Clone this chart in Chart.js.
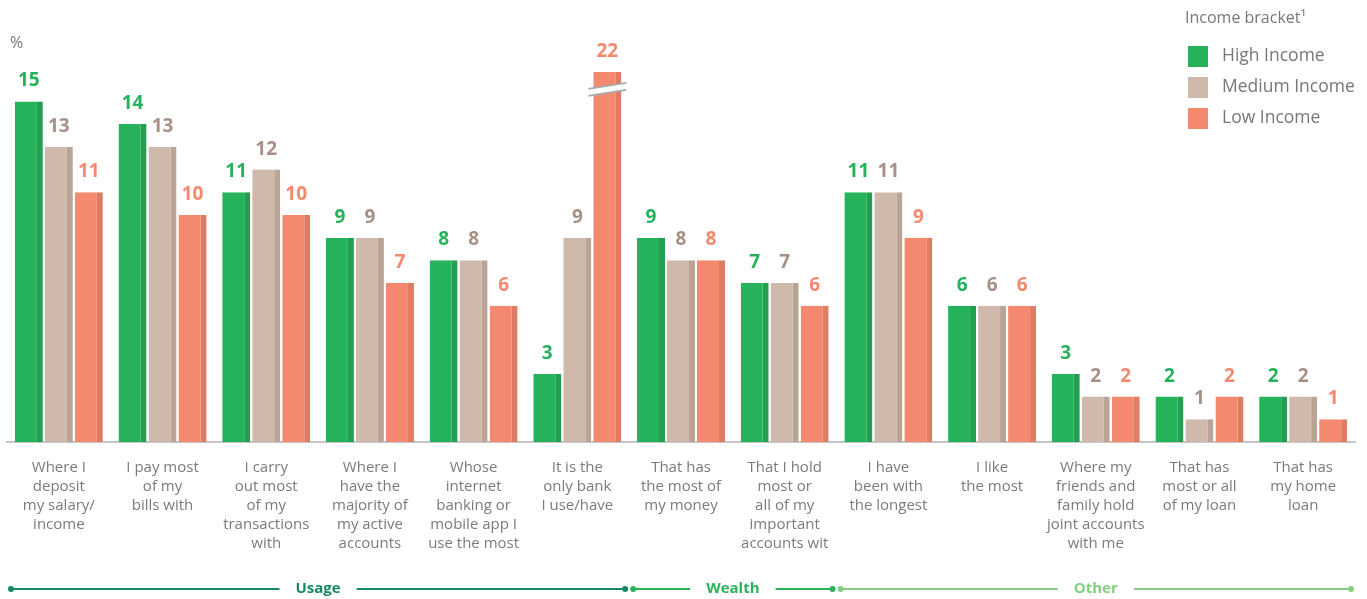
<!DOCTYPE html>
<html lang="en">
<head>
<meta charset="UTF-8" />
<title>Bank choice by income bracket</title>
<script src="https://cdn.jsdelivr.net/npm/chart.js@4.4.1/dist/chart.umd.min.js"></script>
<style>
  html, body { margin: 0; padding: 0; background: #fff; }
  #wrap { width: 1367px; height: 599px; position: relative; }
</style>
</head>
<body>
<div id="wrap"><canvas id="chart"></canvas></div>
<script>
// categories (multi-line labels as in the picture)
const categories = [
  ['Where I', 'deposit', 'my salary/', 'income'],
  ['I pay most', 'of my', 'bills with'],
  ['I carry', 'out most', 'of my', 'transactions', 'with'],
  ['Where I', 'have the', 'majority of', 'my active', 'accounts'],
  ['Whose', 'internet', 'banking or', 'mobile app I', 'use the most'],
  ['It is the', 'only bank', 'I use/have'],
  ['That has', 'the most of', 'my money'],
  ['That I hold', 'most or', 'all of my', 'important', 'accounts wit'],
  ['I have', 'been with', 'the longest'],
  ['I like', 'the most'],
  ['Where my', 'friends and', 'family hold', 'joint accounts', 'with me'],
  ['That has', 'most or all', 'of my loan'],
  ['That has', 'my home', 'loan']
];

const highIncome   = [15, 14, 11, 9, 8, 3, 9, 7, 11, 6, 3, 2, 2];
const mediumIncome = [13, 13, 12, 9, 8, 9, 8, 7, 11, 6, 2, 1, 2];
const lowIncome    = [11, 10, 10, 7, 6, 22, 8, 6, 9, 6, 2, 2, 1];

const seriesNames = ['High Income', 'Medium Income', 'Low Income'];

// sections under the axis: first and last category index
const sectionNames = ['Usage', 'Wealth', 'Other'];
const sectionFrom  = [0, 6, 8];
const sectionTo    = [5, 7, 12];

// bars taller than this are drawn cut off with a break mark
const breakAt = 16.3;

const fills   = ['#26b25b', '#cfb9ab', '#f4896f'];
const stripes = ['#229f51', '#baa496', '#de7c64'];
const labelColors = ['#26b25b', '#a89086', '#f4896f'];
const sectionColors = ['#178a62', '#2bb35a', '#84cf82'];

const allSeries = [highIncome, mediumIncome, lowIncome];

const overlay = {
  id: 'overlay',
  afterDatasetsDraw(chart) {
    const ctx = chart.ctx;
    ctx.save();
    ctx.font = 'bold 19px "Open Sans", sans-serif';
    ctx.textAlign = 'center';
    ctx.textBaseline = 'alphabetic';
    allSeries.forEach((vals, d) => {
      const meta = chart.getDatasetMeta(d);
      meta.data.forEach((bar, i) => {
        ctx.fillStyle = labelColors[d];
        ctx.fillText(String(vals[i]), bar.x, bar.y - 15);
        if (vals[i] > breakAt) {
          // break mark across the cut bar
          const x0 = bar.x - bar.width / 2 - 5, x1 = bar.x + bar.width / 2 + 5;
          const yb = bar.y + 17;
          ctx.beginPath();
          ctx.moveTo(x0, yb); ctx.lineTo(x1, yb - 6);
          ctx.lineTo(x1, yb + 1); ctx.lineTo(x0, yb + 7);
          ctx.closePath();
          ctx.fillStyle = '#fff';
          ctx.fill();
          ctx.strokeStyle = '#a9a9ab';
          ctx.lineWidth = 1.6;
          ctx.beginPath();
          ctx.moveTo(x0, yb); ctx.lineTo(x1, yb - 6);
          ctx.moveTo(x0, yb + 7); ctx.lineTo(x1, yb + 1);
          ctx.stroke();
        }
      });
    });
    ctx.restore();
  },
  afterDraw(chart) {
    const ctx = chart.ctx;
    const x = chart.scales.x;
    ctx.save();

    // unit
    ctx.fillStyle = '#777';
    ctx.font = '16px "Open Sans", sans-serif';
    ctx.textAlign = 'left';
    ctx.textBaseline = 'middle';
    ctx.fillText('%', 10, 43);

    // legend
    ctx.font = '16px "Open Sans", sans-serif';
    ctx.fillText('Income bracket\u00B9', 1185, 18);
    ctx.font = '17.5px "Open Sans", sans-serif';
    seriesNames.forEach((n, i) => {
      const y = 46 + i * 31;
      ctx.fillStyle = fills[i];
      ctx.fillRect(1188, y, 20, 21);
      ctx.fillStyle = '#777';
      ctx.fillText(n, 1222, y + 10);
    });

    // section lines
    const half = (x.getPixelForValue(1) - x.getPixelForValue(0)) / 2;
    const ly = 589;
    ctx.font = 'bold 15px "Open Sans", sans-serif';
    ctx.textAlign = 'center';
    sectionNames.forEach((name, s) => {
      const a = x.getPixelForValue(sectionFrom[s]) - half + 4;
      const b = x.getPixelForValue(sectionTo[s]) + half - 4;
      const mid = (a + b) / 2;
      const tw = ctx.measureText(name).width / 2 + 16;
      ctx.strokeStyle = sectionColors[s];
      ctx.fillStyle = sectionColors[s];
      ctx.lineWidth = 2;
      ctx.beginPath();
      ctx.moveTo(a, ly); ctx.lineTo(mid - tw, ly);
      ctx.moveTo(mid + tw, ly); ctx.lineTo(b, ly);
      ctx.stroke();
      [a, b].forEach(px => {
        ctx.beginPath();
        ctx.arc(px, ly, 3, 0, Math.PI * 2);
        ctx.fill();
      });
      ctx.fillText(name, mid, ly);
    });
    ctx.restore();
  }
};

const datasets = allSeries.map((vals, d) => ({
  label: seriesNames[d],
  data: vals.map(v => Math.min(v, breakAt)),
  backgroundColor: fills[d],
  borderColor: stripes[d],
  borderWidth: { right: 6, left: 0, top: 0, bottom: 0 },
  borderSkipped: false,
  inflateAmount: 0,
  categoryPercentage: 0.868,
  barPercentage: 0.933
}));

new Chart(document.getElementById('chart'), {
  type: 'bar',
  data: { labels: categories, datasets: datasets },
  options: {
    responsive: true,
    maintainAspectRatio: false,
    animation: false,
    layout: { padding: { left: 7, right: 12, top: 56, bottom: 30 } },
    plugins: { legend: { display: false }, tooltip: { enabled: false } },
    scales: {
      x: {
        grid: { display: false, drawTicks: false },
        border: { display: true, color: '#c6c6ca', width: 2 },
        ticks: {
          autoSkip: false,
          maxRotation: 0,
          padding: 16,
          color: '#7b7b7b',
          font: { family: '"Open Sans", sans-serif', size: 15, lineHeight: '19px' }
        }
      },
      y: {
        display: false,
        min: 0,
        max: 17
      }
    }
  },
  plugins: [overlay]
});
</script>
</body>
</html>
